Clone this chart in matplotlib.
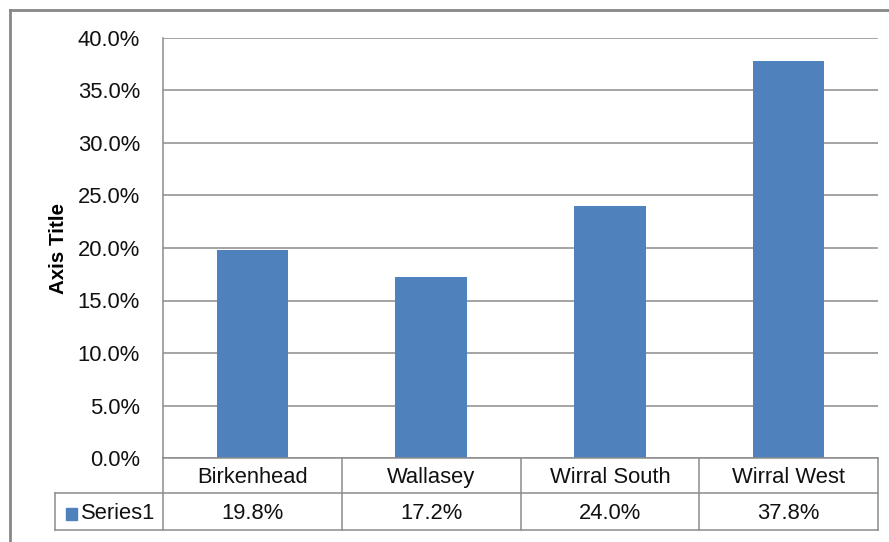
import matplotlib.pyplot as plt
from matplotlib.lines import Line2D
from matplotlib.patches import Rectangle
from matplotlib.transforms import blended_transform_factory
from matplotlib.ticker import FuncFormatter

plt.rcParams['font.family'] = ['Liberation Sans', 'DejaVu Sans']

categories = ['Birkenhead', 'Wallasey', 'Wirral South', 'Wirral West']
values = [19.8, 17.2, 24.0, 37.8]
series_name = 'Series1'
y_ticks = [0, 5, 10, 15, 20, 25, 30, 35, 40]

W, H = 889, 542
bar_color = '#4F81BD'
line_color = '#8C8C8C'
txt_color = '#111111'
fs = 15.8

fig = plt.figure(figsize=(W / 100, H / 100), dpi=100)

def fx(px):
    return px / W

def fy(py):
    return 1 - py / H

# plot area in pixel terms
left, right, top, bottom = 163, 878, 38, 458
ax = fig.add_axes([fx(left), fy(bottom), fx(right - left), (bottom - top) / H])

xs = list(range(len(categories)))
ax.bar(xs, values, width=0.4, color=bar_color, zorder=3)
ax.set_xlim(-0.5, len(categories) - 0.5)
ax.set_ylim(0, 40)
ax.set_yticks(y_ticks)
ax.yaxis.set_major_formatter(FuncFormatter(lambda v, p: f'{v:.1f}%'))
ax.set_xticks([])
ax.tick_params(axis='y', length=0, pad=16.5, labelsize=fs, colors=txt_color)
ax.grid(axis='y', color=line_color, linewidth=1.1, zorder=0)
for s in ['top', 'right', 'bottom']:
    ax.spines[s].set_visible(False)
ax.spines['left'].set_color(line_color)
ax.spines['left'].set_linewidth(1.1)

fig.text(fx(59), fy(248), 'Axis Title', rotation=90, ha='center', va='center',
         fontsize=14.8, fontweight='bold')

# data table
row1_top, row1_bot, row2_bot = 458, 493, 530
tbl_left = 55
lw = 1.1
def hline(x0, x1, y):
    fig.add_artist(Line2D([fx(x0), fx(x1)], [fy(y), fy(y)], color=line_color, lw=lw))
def vline(x, y0, y1):
    fig.add_artist(Line2D([fx(x), fx(x)], [fy(y0), fy(y1)], color=line_color, lw=lw))

hline(left, right, row1_top)
hline(tbl_left, right, row1_bot)
hline(tbl_left, right, row2_bot)
col_edges = [left + i * (right - left) / len(categories) for i in range(len(categories) + 1)]
for x in col_edges:
    vline(x, row1_top, row2_bot)
vline(tbl_left, row1_bot, row2_bot)

tr = blended_transform_factory(ax.transData, fig.transFigure)
for x, cat, v in zip(xs, categories, values):
    fig.text(x, fy((row1_top + row1_bot) / 2 + 2), cat, transform=tr, ha='center',
             va='center', fontsize=fs, color=txt_color)
    fig.text(x, fy((row1_bot + row2_bot) / 2 + 2), f'{v:.1f}%', transform=tr, ha='center',
             va='center', fontsize=fs, color=txt_color)

fig.add_artist(Rectangle((fx(66), fy(520)), fx(11), 12 / H, color=bar_color,
                         transform=fig.transFigure))
fig.text(fx(81), fy((row1_bot + row2_bot) / 2 + 2), series_name, ha='left', va='center',
         fontsize=fs, color=txt_color)

# outer chart frame
fig.add_artist(Line2D([fx(10), 1.0], [fy(10), fy(10)], color='#878787', lw=2))
fig.add_artist(Line2D([fx(10), fx(10)], [fy(10), 0], color='#878787', lw=2))

fig.savefig('out.png', dpi=100)
